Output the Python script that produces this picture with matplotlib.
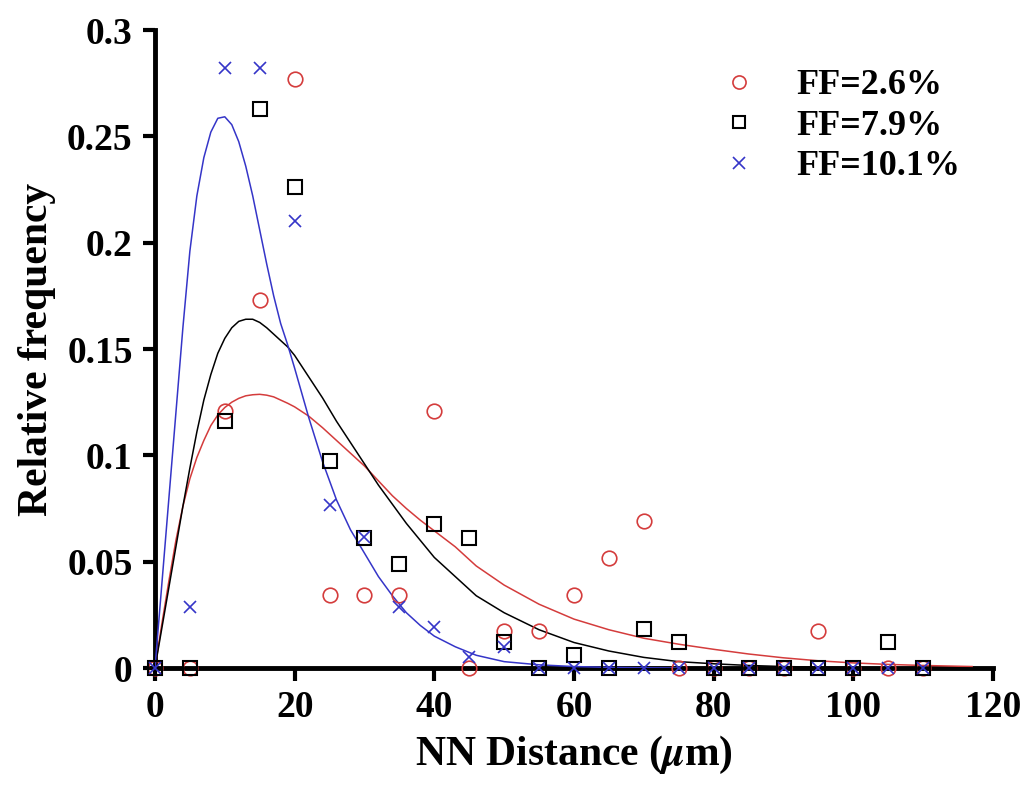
import numpy as np
import matplotlib
matplotlib.use("Agg")
import matplotlib.pyplot as plt

# NN distance bins (um)
bins = [0, 5, 10, 15, 20, 25, 30, 35, 40, 45, 50, 55, 60, 65, 70, 75, 80, 85, 90, 95, 100, 105, 110]

# measured relative frequencies
freq_26 = [0, 0, 0.121, 0.173, 0.277, 0.0345, 0.0345, 0.0345, 0.121, 0, 0.0172, 0.0172,
           0.0345, 0.0517, 0.069, 0, 0, 0, 0, 0.0172, 0, 0, 0]
freq_79 = [0, 0, 0.116, 0.263, 0.226, 0.0975, 0.061, 0.049, 0.0675, 0.061, 0.0123, 0,
           0.0061, 0, 0.0184, 0.0123, 0, 0, 0, 0, 0, 0.0123, 0]
freq_101 = [0, 0.0288, 0.282, 0.282, 0.21, 0.0767, 0.0618, 0.0288, 0.0191, 0.0053, 0.0100, 0,
            0, 0, 0, 0, 0, 0, 0, 0, 0, 0, 0]

# fitted curves
fit_x = [0, 1, 2, 3, 4, 5, 6, 7, 8, 9, 10, 11, 12, 13, 14, 15, 16, 17, 18, 19, 20,
         22, 24, 26, 28, 30, 32, 34, 36, 38, 40, 43, 46, 50, 55, 60, 65, 70, 75,
         80, 85, 90, 95, 100, 105, 110, 117]
fit_26 = [0, 0.021, 0.041, 0.060, 0.076, 0.089, 0.099, 0.107, 0.114, 0.119, 0.1225,
          0.125, 0.1268, 0.128, 0.1285, 0.1287, 0.1283, 0.1275, 0.126, 0.1245, 0.1228,
          0.1185, 0.113, 0.107, 0.101, 0.095, 0.088, 0.081, 0.075, 0.0695, 0.0645,
          0.057, 0.048, 0.039, 0.030, 0.023, 0.018, 0.014, 0.0112, 0.0088, 0.0066,
          0.0048, 0.0034, 0.0024, 0.0017, 0.0012, 0.0007]
fit_79 = [0, 0.019, 0.038, 0.057, 0.076, 0.094, 0.111, 0.126, 0.138, 0.148, 0.155,
          0.160, 0.163, 0.164, 0.164, 0.1625, 0.160, 0.157, 0.154, 0.151, 0.147,
          0.137, 0.127, 0.116, 0.106, 0.096, 0.086, 0.077, 0.068, 0.060, 0.052,
          0.043, 0.034, 0.026, 0.018, 0.012, 0.008, 0.005, 0.003, 0.002, 0.0012,
          0.0007, 0.0004, 0.0002, 0.0001, 0.00005, 0]
fit_101 = [0, 0.040, 0.080, 0.120, 0.160, 0.196, 0.222, 0.240, 0.252, 0.2585, 0.2592,
           0.2555, 0.2475, 0.236, 0.222, 0.206, 0.190, 0.175, 0.162, 0.152, 0.141,
           0.118, 0.097, 0.079, 0.065, 0.054, 0.043, 0.034, 0.026, 0.020, 0.015,
           0.010, 0.006, 0.003, 0.0015, 0.0007, 0.0003, 0.0001, 0]

labels = ["FF=2.6%", "FF=7.9%", "FF=10.1%"]
red, blk, blu = "#d43c3c", "black", "#3535c8"

plt.rcParams['font.family'] = ['Liberation Serif', 'DejaVu Serif']
plt.rcParams['font.weight'] = 'bold'
plt.rcParams['mathtext.fontset'] = 'stix'

fig = plt.figure(figsize=(10.33, 7.9), dpi=100)
ax = fig.add_axes([0.150, 0.1544, 0.8113, 0.8076])

ax.plot(bins, freq_26, 'o', ms=10.5, mfc='none', mec=red, mew=1.2, label=labels[0], clip_on=False, zorder=4)
ax.plot(bins, freq_79, 's', ms=9.5, mfc='none', mec=blk, mew=1.5, label=labels[1], clip_on=False, zorder=4)
ax.plot(bins, freq_101, 'x', ms=9, mec=blu, mew=1.2, label=labels[2], clip_on=False, zorder=4)

ax.plot(fit_x, fit_26, '-', color=red, lw=1.1, zorder=3)
ax.plot(fit_x, fit_79, '-', color=blk, lw=1.1, zorder=3)
ax.plot(fit_x[:len(fit_101)], fit_101, '-', color=blu, lw=1.1, zorder=3)

ax.set_xlim(0, 120)
ax.set_ylim(0, 0.3)
ax.set_xticks([0, 20, 40, 60, 80, 100, 120])
ax.set_yticks([0, 0.05, 0.1, 0.15, 0.2, 0.25, 0.3])
ax.set_yticklabels(["0", "0.05", "0.1", "0.15", "0.2", "0.25", "0.3"])
ax.tick_params(direction='out', length=9, width=3, labelsize=27, pad=7)

for s in ['top', 'right']:
    ax.spines[s].set_visible(False)
for s in ['left', 'bottom']:
    ax.spines[s].set_linewidth(3.5)

ax.set_xlabel(r"NN Distance ($\mu$m)", fontsize=30, fontweight='bold', labelpad=6)
ax.set_ylabel("Relative frequency", fontsize=30, fontweight='bold', labelpad=8)

ax.legend(loc='upper right', bbox_to_anchor=(1.0, 0.99), frameon=False, fontsize=26,
          handletextpad=0.6, labelspacing=0.2, markerscale=0.9)

fig.savefig("out.png", dpi=100)
